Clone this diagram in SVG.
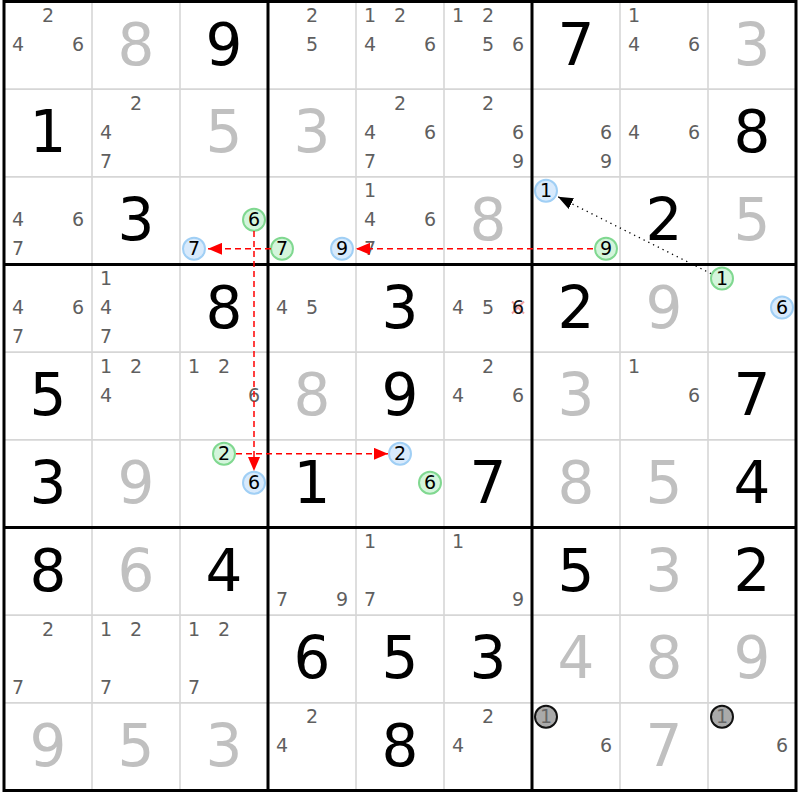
<svg xmlns="http://www.w3.org/2000/svg" width="800" height="800" viewBox="0 0 800 800">
<style>
text{font-family:"DejaVu Sans",Verdana,sans-serif;text-anchor:middle}
.c{font-size:19px;fill:#5f5f5f}
.k{font-size:19px;fill:#000}
.kg{font-size:19px;fill:#666}
.b{font-size:58px;fill:#000}
.g{font-size:58px;fill:#c0c0c0}
.thin{stroke:#d6d6d6;stroke-width:1.6}
.thick{stroke:#000;stroke-width:3}
.cg{fill:#d4f5dc;stroke:#80d890;stroke-width:2}
.cb{fill:#d8eafc;stroke:#a0cff5;stroke-width:2}
.cx{fill:#aaaaaa;stroke:#111;stroke-width:2}
.ra{stroke:#ff0000;stroke-width:1.5;stroke-dasharray:6,4;fill:none;marker-end:url(#rh)}
.da{stroke:#000;stroke-width:1.3;stroke-dasharray:1.3,4;fill:none;marker-end:url(#bh)}
</style>
<defs>
<marker id="rh" markerUnits="userSpaceOnUse" markerWidth="14" markerHeight="12" refX="14" refY="6" orient="auto"><path d="M0,0 L14,6 L0,12 z" fill="#ff0000"/></marker>
<marker id="bh" markerUnits="userSpaceOnUse" markerWidth="15" markerHeight="12" refX="15" refY="6" orient="auto"><path d="M0,0 L15,6 L0,12 z" fill="#000"/></marker>
</defs>
<rect x="0" y="0" width="800" height="800" fill="#fff"/>
<g id="grid-thin">
<line class="thin" x1="92" y1="1.5" x2="92" y2="790.5"/>
<line class="thin" x1="180" y1="1.5" x2="180" y2="790.5"/>
<line class="thin" x1="356" y1="1.5" x2="356" y2="790.5"/>
<line class="thin" x1="444" y1="1.5" x2="444" y2="790.5"/>
<line class="thin" x1="620" y1="1.5" x2="620" y2="790.5"/>
<line class="thin" x1="708" y1="1.5" x2="708" y2="790.5"/>
<line class="thin" x1="4" y1="89.17" x2="796" y2="89.17"/>
<line class="thin" x1="4" y1="176.83" x2="796" y2="176.83"/>
<line class="thin" x1="4" y1="352.17" x2="796" y2="352.17"/>
<line class="thin" x1="4" y1="439.83" x2="796" y2="439.83"/>
<line class="thin" x1="4" y1="615.17" x2="796" y2="615.17"/>
<line class="thin" x1="4" y1="702.83" x2="796" y2="702.83"/>
</g>
<g id="grid-thick">
<line class="thick" x1="268" y1="1.5" x2="268" y2="790.5"/>
<line class="thick" x1="532" y1="1.5" x2="532" y2="790.5"/>
<line class="thick" x1="4" y1="264.5" x2="796" y2="264.5"/>
<line class="thick" x1="4" y1="527.5" x2="796" y2="527.5"/>
<rect x="4" y="1.5" width="792" height="789" fill="none" stroke="#000" stroke-width="3"/>
</g>
<!-- Row 1 -->
<g id="r1c1"><text class="c" x="48" y="22">2</text><text class="c" x="18" y="51">4</text><text class="c" x="78" y="51">6</text></g>
<g id="r1c2"><text class="g" x="136" y="64.5">8</text></g>
<g id="r1c3"><text class="b" x="224" y="64.5">9</text></g>
<g id="r1c4"><text class="c" x="312" y="22">2</text><text class="c" x="312" y="51">5</text></g>
<g id="r1c5"><text class="c" x="370" y="22">1</text><text class="c" x="400" y="22">2</text><text class="c" x="370" y="51">4</text><text class="c" x="430" y="51">6</text></g>
<g id="r1c6"><text class="c" x="458" y="22">1</text><text class="c" x="488" y="22">2</text><text class="c" x="488" y="51">5</text><text class="c" x="518" y="51">6</text></g>
<g id="r1c7"><text class="b" x="576" y="64.5">7</text></g>
<g id="r1c8"><text class="c" x="634" y="22">1</text><text class="c" x="634" y="51">4</text><text class="c" x="694" y="51">6</text></g>
<g id="r1c9"><text class="g" x="752" y="64.5">3</text></g>
<!-- Row 2 -->
<g id="r2c1"><text class="b" x="48" y="152.2">1</text></g>
<g id="r2c2"><text class="c" x="136" y="109.7">2</text><text class="c" x="106" y="138.7">4</text><text class="c" x="106" y="167.7">7</text></g>
<g id="r2c3"><text class="g" x="224" y="152.2">5</text></g>
<g id="r2c4"><text class="g" x="312" y="152.2">3</text></g>
<g id="r2c5"><text class="c" x="400" y="109.7">2</text><text class="c" x="370" y="138.7">4</text><text class="c" x="430" y="138.7">6</text><text class="c" x="370" y="167.7">7</text></g>
<g id="r2c6"><text class="c" x="488" y="109.7">2</text><text class="c" x="518" y="138.7">6</text><text class="c" x="518" y="167.7">9</text></g>
<g id="r2c7"><text class="c" x="606" y="138.7">6</text><text class="c" x="606" y="167.7">9</text></g>
<g id="r2c8"><text class="c" x="634" y="138.7">4</text><text class="c" x="694" y="138.7">6</text></g>
<g id="r2c9"><text class="b" x="752" y="152.2">8</text></g>
<!-- Row 3 -->
<g id="r3c1"><text class="c" x="18" y="226.3">4</text><text class="c" x="78" y="226.3">6</text><text class="c" x="18" y="255.3">7</text></g>
<g id="r3c2"><text class="b" x="136" y="239.8">3</text></g>
<g id="r3c3"><circle class="cg" cx="254" cy="219.8" r="11"/><text class="k" x="254" y="226.3">6</text><circle class="cb" cx="194" cy="248.8" r="11"/><text class="k" x="194" y="255.3">7</text></g>
<g id="r3c4"><circle class="cg" cx="282" cy="248.8" r="11"/><text class="k" x="282" y="255.3">7</text><circle class="cb" cx="342" cy="248.8" r="11"/><text class="k" x="342" y="255.3">9</text></g>
<g id="r3c5"><text class="c" x="370" y="197.3">1</text><text class="c" x="370" y="226.3">4</text><text class="c" x="430" y="226.3">6</text><text class="c" x="370" y="255.3">7</text></g>
<g id="r3c6"><text class="g" x="488" y="239.8">8</text></g>
<g id="r3c7"><circle class="cb" cx="546" cy="190.8" r="11"/><text class="k" x="546" y="197.3">1</text><circle class="cg" cx="606" cy="248.8" r="11"/><text class="k" x="606" y="255.3">9</text></g>
<g id="r3c8"><text class="b" x="664" y="239.8">2</text></g>
<g id="r3c9"><text class="g" x="752" y="239.8">5</text></g>
<!-- Row 4 -->
<g id="r4c1"><text class="c" x="18" y="314">4</text><text class="c" x="78" y="314">6</text><text class="c" x="18" y="343">7</text></g>
<g id="r4c2"><text class="c" x="106" y="285">1</text><text class="c" x="106" y="314">4</text><text class="c" x="106" y="343">7</text></g>
<g id="r4c3"><text class="b" x="224" y="327.5">8</text></g>
<g id="r4c4"><text class="c" x="282" y="314">4</text><text class="c" x="312" y="314">5</text></g>
<g id="r4c5"><text class="b" x="400" y="327.5">3</text></g>
<g id="r4c6"><text class="c" x="458" y="314">4</text><text class="c" x="488" y="314">5</text><path d="M512,301.5 L524,313.5 M524,301.5 L512,313.5" stroke="#f4a0a0" stroke-width="2"/><text class="k" x="518" y="314" style="fill:#111">6</text></g>
<g id="r4c7"><text class="b" x="576" y="327.5">2</text></g>
<g id="r4c8"><text class="g" x="664" y="327.5">9</text></g>
<g id="r4c9"><circle class="cg" cx="722" cy="278.5" r="11"/><text class="k" x="722" y="285">1</text><circle class="cb" cx="782" cy="307.5" r="11"/><text class="k" x="782" y="314">6</text></g>
<!-- Row 5 -->
<g id="r5c1"><text class="b" x="48" y="415.2">5</text></g>
<g id="r5c2"><text class="c" x="106" y="372.7">1</text><text class="c" x="136" y="372.7">2</text><text class="c" x="106" y="401.7">4</text></g>
<g id="r5c3"><text class="c" x="194" y="372.7">1</text><text class="c" x="224" y="372.7">2</text><text class="c" x="254" y="401.7">6</text></g>
<g id="r5c4"><text class="g" x="312" y="415.2">8</text></g>
<g id="r5c5"><text class="b" x="400" y="415.2">9</text></g>
<g id="r5c6"><text class="c" x="488" y="372.7">2</text><text class="c" x="458" y="401.7">4</text><text class="c" x="518" y="401.7">6</text></g>
<g id="r5c7"><text class="g" x="576" y="415.2">3</text></g>
<g id="r5c8"><text class="c" x="634" y="372.7">1</text><text class="c" x="694" y="401.7">6</text></g>
<g id="r5c9"><text class="b" x="752" y="415.2">7</text></g>
<!-- Row 6 -->
<g id="r6c1"><text class="b" x="48" y="502.8">3</text></g>
<g id="r6c2"><text class="g" x="136" y="502.8">9</text></g>
<g id="r6c3"><circle class="cg" cx="224" cy="453.8" r="11"/><text class="k" x="224" y="460.3">2</text><circle class="cb" cx="254" cy="482.8" r="11"/><text class="k" x="254" y="489.3">6</text></g>
<g id="r6c4"><text class="b" x="312" y="502.8">1</text></g>
<g id="r6c5"><circle class="cb" cx="400" cy="453.8" r="11"/><text class="k" x="400" y="460.3">2</text><circle class="cg" cx="430" cy="482.8" r="11"/><text class="k" x="430" y="489.3">6</text></g>
<g id="r6c6"><text class="b" x="488" y="502.8">7</text></g>
<g id="r6c7"><text class="g" x="576" y="502.8">8</text></g>
<g id="r6c8"><text class="g" x="664" y="502.8">5</text></g>
<g id="r6c9"><text class="b" x="752" y="502.8">4</text></g>
<!-- Row 7 -->
<g id="r7c1"><text class="b" x="48" y="590.5">8</text></g>
<g id="r7c2"><text class="g" x="136" y="590.5">6</text></g>
<g id="r7c3"><text class="b" x="224" y="590.5">4</text></g>
<g id="r7c4"><text class="c" x="282" y="606">7</text><text class="c" x="342" y="606">9</text></g>
<g id="r7c5"><text class="c" x="370" y="548">1</text><text class="c" x="370" y="606">7</text></g>
<g id="r7c6"><text class="c" x="458" y="548">1</text><text class="c" x="518" y="606">9</text></g>
<g id="r7c7"><text class="b" x="576" y="590.5">5</text></g>
<g id="r7c8"><text class="g" x="664" y="590.5">3</text></g>
<g id="r7c9"><text class="b" x="752" y="590.5">2</text></g>
<!-- Row 8 -->
<g id="r8c1"><text class="c" x="48" y="635.7">2</text><text class="c" x="18" y="693.7">7</text></g>
<g id="r8c2"><text class="c" x="106" y="635.7">1</text><text class="c" x="136" y="635.7">2</text><text class="c" x="106" y="693.7">7</text></g>
<g id="r8c3"><text class="c" x="194" y="635.7">1</text><text class="c" x="224" y="635.7">2</text><text class="c" x="194" y="693.7">7</text></g>
<g id="r8c4"><text class="b" x="312" y="678.2">6</text></g>
<g id="r8c5"><text class="b" x="400" y="678.2">5</text></g>
<g id="r8c6"><text class="b" x="488" y="678.2">3</text></g>
<g id="r8c7"><text class="g" x="576" y="678.2">4</text></g>
<g id="r8c8"><text class="g" x="664" y="678.2">8</text></g>
<g id="r8c9"><text class="g" x="752" y="678.2">9</text></g>
<!-- Row 9 -->
<g id="r9c1"><text class="g" x="48" y="765.8">9</text></g>
<g id="r9c2"><text class="g" x="136" y="765.8">5</text></g>
<g id="r9c3"><text class="g" x="224" y="765.8">3</text></g>
<g id="r9c4"><text class="c" x="312" y="723.3">2</text><text class="c" x="282" y="752.3">4</text></g>
<g id="r9c5"><text class="b" x="400" y="765.8">8</text></g>
<g id="r9c6"><text class="c" x="488" y="723.3">2</text><text class="c" x="458" y="752.3">4</text></g>
<g id="r9c7"><circle class="cx" cx="546" cy="716.8" r="11"/><text class="kg" x="546" y="723.3">1</text><text class="c" x="606" y="752.3">6</text></g>
<g id="r9c8"><text class="g" x="664" y="765.8">7</text></g>
<g id="r9c9"><circle class="cx" cx="722" cy="716.8" r="11"/><text class="kg" x="722" y="723.3">1</text><text class="c" x="782" y="752.3">6</text></g>
<g id="connectors">
<path class="ra" d="M593,248.8 L356,248.8"/>
<path class="ra" d="M271,248.8 L208,248.8"/>
<path class="ra" d="M254,231 L254,471"/>
<path class="ra" d="M236,453.8 L388,453.8"/>
<path class="da" d="M711,273.6 L558,196.8"/>
</g>
</svg>
